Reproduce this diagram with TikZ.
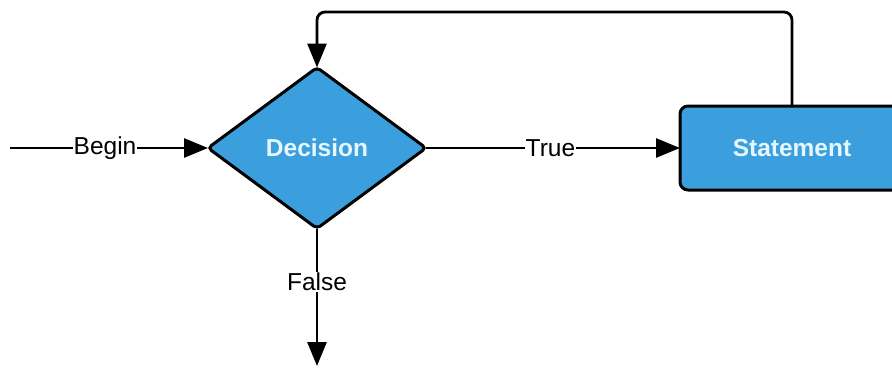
\documentclass[tikz,border=0pt]{standalone}
\usepackage{fontspec}
\setmainfont{Liberation Sans}
\usetikzlibrary{shapes.geometric,arrows.meta}
\definecolor{boxblue}{HTML}{3A9FDC}
\definecolor{boxtext}{HTML}{E6F6FF}
\tikzset{
  flowbox/.style={draw=black,line width=3pt,fill=boxblue,text=boxtext,font=\fontsize{24.5}{28}\selectfont\bfseries,inner sep=0pt,outer sep=0pt},
  conn/.style={line width=2.8pt,-{Triangle[length=24pt,width=19pt]}},
  lbl/.style={fill=white,inner sep=1pt,font=\fontsize{24.5}{28}\selectfont,text=black}
}
\begin{document}
\begin{tikzpicture}[x=1pt,y=-1pt]
\useasboundingbox (0,0) rectangle (892,368);
\fill[white] (0,0) rectangle (892,368);
\node[flowbox,diamond,aspect=1.35,minimum width=218pt,minimum height=161pt,rounded corners=4pt] (dec) at (317,148) {Decision};
\node[flowbox,rectangle,minimum width=224pt,minimum height=84pt,rounded corners=8pt] (stm) at (792,148) {Statement};
\coordinate (start) at (10,148);
\coordinate (fend) at (317,366);
\coordinate (tr) at (792,12);
\coordinate (tl) at (317,12);
\draw[conn] (start) -- node[lbl,pos=0.48]{Begin} (dec.west);
\draw[conn] (dec.east) -- node[lbl,pos=0.49]{True} (stm.west);
\draw[conn] (dec.south) -- node[lbl,pos=0.39]{False} (fend);
\draw[conn,rounded corners=8pt] (stm.north) -- (tr) -- (tl) -- (dec.north);
\end{tikzpicture}
\end{document}
